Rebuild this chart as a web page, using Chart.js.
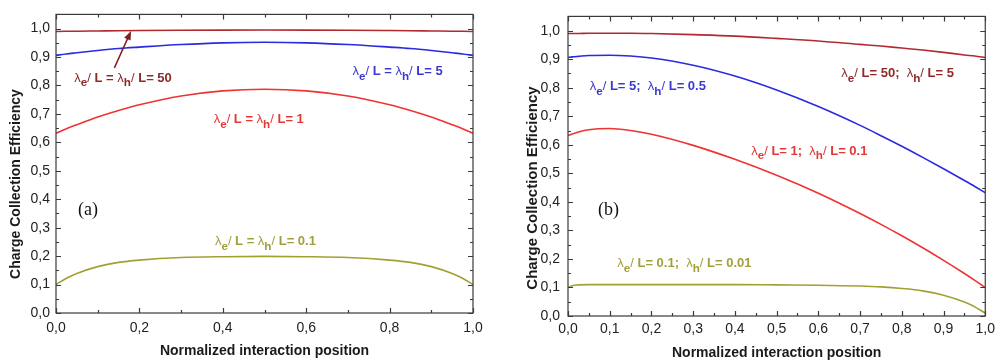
<!DOCTYPE html>
<html>
<head>
<meta charset="utf-8">
<script src="https://cdn.jsdelivr.net/npm/chart.js@4.4.1/dist/chart.umd.min.js"></script>
<style>
  body { margin: 0; background: #fff; }
  .panel { position: absolute; top: 0; height: 364px; }
  #wrapA { left: 0; width: 495px; }
  #wrapB { left: 500px; width: 500px; }
</style>
</head>
<body>
<div class="panel" id="wrapA"><canvas id="chartA"></canvas></div>
<div class="panel" id="wrapB"><canvas id="chartB"></canvas></div>
<script>
// panel (a): symmetric mobilities
const posA = [0, 0.025, 0.05, 0.1, 0.15, 0.2, 0.3, 0.4, 0.5, 0.6, 0.7, 0.8, 0.85, 0.9, 0.95, 0.975, 1.0];
const cceA50 = [0.990, 0.9905, 0.991, 0.9918, 0.9926, 0.9932, 0.9942, 0.9948, 0.995, 0.9948, 0.9942, 0.9932, 0.9926, 0.9918, 0.991, 0.9905, 0.990];
const cceA5 = [0.906, 0.911, 0.915, 0.923, 0.930, 0.935, 0.944, 0.950, 0.952, 0.950, 0.944, 0.935, 0.930, 0.923, 0.915, 0.911, 0.906];
const cceA1 = [0.632, 0.648, 0.662, 0.689, 0.712, 0.732, 0.763, 0.781, 0.787, 0.781, 0.763, 0.732, 0.712, 0.689, 0.662, 0.648, 0.632];
const cceA01 = [0.100, 0.122, 0.139, 0.163, 0.178, 0.186, 0.195, 0.198, 0.199, 0.198, 0.195, 0.186, 0.178, 0.163, 0.139, 0.122, 0.100];
const labelsA = ['λ_e/ L = λ_h/ L= 50', 'λ_e/ L = λ_h/ L= 5', 'λ_e/ L = λ_h/ L= 1', 'λ_e/ L = λ_h/ L= 0.1'];

// panel (b): hole length ten times shorter
const posB = [0, 0.01, 0.025, 0.05, 0.1, 0.15, 0.2, 0.3, 0.4, 0.5, 0.6, 0.7, 0.75, 0.8, 0.85, 0.9, 0.95, 0.975, 1.0];
const cceB50 = [0.990, 0.990, 0.990, 0.991, 0.991, 0.991, 0.990, 0.986, 0.981, 0.973, 0.964, 0.952, 0.946, 0.939, 0.932, 0.924, 0.915, 0.911, 0.906];
const cceB5 = [0.906, 0.908, 0.910, 0.913, 0.914, 0.911, 0.904, 0.879, 0.841, 0.792, 0.734, 0.668, 0.632, 0.595, 0.556, 0.516, 0.475, 0.454, 0.432];
const cceB1 = [0.632, 0.638, 0.645, 0.653, 0.657, 0.650, 0.637, 0.598, 0.549, 0.493, 0.430, 0.359, 0.321, 0.281, 0.239, 0.195, 0.149, 0.125, 0.100];
const cceB01 = [0.100, 0.106, 0.109, 0.110, 0.110, 0.110, 0.110, 0.110, 0.110, 0.109, 0.108, 0.105, 0.102, 0.0965, 0.088, 0.073, 0.049, 0.032, 0.010];
const labelsB = ['λ_e/ L= 50;  λ_h/ L= 5', 'λ_e/ L= 5;  λ_h/ L= 0.5', 'λ_e/ L= 1;  λ_h/ L= 0.1', 'λ_e/ L= 0.1;  λ_h/ L= 0.01'];

const lineColors = ['#b02a32', '#2a2ae0', '#f03232', '#a3a032'];
const textColors = ['#8c2a2a', '#3a3ad2', '#e23838', '#a0a03c'];
const FONT = '"Liberation Sans", Arial, sans-serif';

const toPoints = (xs, ys) => xs.map((x, i) => ({ x: x, y: ys[i] }));

const comma = v => v.toFixed(1).replace('.', ',');
const isMajor = (v, step) => Math.abs(Math.round(v / step) * step - v) < 1e-6;

// text with one-letter subscripts written as _e
function drawRich(ctx, str, x, y, size, color) {
  let cx = x;
  for (let i = 0; i < str.length; i++) {
    let ch = str[i];
    let sub = false;
    if (ch === '_') { ch = str[++i]; sub = true; }
    const fs = sub ? size * 0.9 : size;
    const weight = (ch === 'λ' || ch === '/') ? 'normal' : 'bold';
    ctx.font = weight + ' ' + fs + 'px ' + FONT;
    ctx.fillStyle = color;
    ctx.fillText(ch, cx, sub ? y + size * 0.38 : y);
    cx += ctx.measureText(ch).width;
  }
}

const decor = {
  id: 'decor',
  afterDraw(chart, args, opts) {
    const { ctx, chartArea: a, scales: { x, y } } = chart;
    ctx.save();
    // frame with inward ticks on all four sides
    ctx.strokeStyle = '#3a3a3a';
    ctx.lineWidth = 1.2;
    ctx.strokeRect(a.left, a.top, a.right - a.left, a.bottom - a.top);
    ctx.beginPath();
    x.ticks.forEach(t => {
      const px = Math.round(x.getPixelForValue(t.value)) + 0.5;
      const len = isMajor(t.value, opts.xMajor) ? 5 : 3;
      ctx.moveTo(px, a.bottom); ctx.lineTo(px, a.bottom - len);
      ctx.moveTo(px, a.top); ctx.lineTo(px, a.top + len);
    });
    y.ticks.forEach(t => {
      const py = Math.round(y.getPixelForValue(t.value)) + 0.5;
      const len = isMajor(t.value, 0.1) ? 5 : 3;
      ctx.moveTo(a.left, py); ctx.lineTo(a.left + len, py);
      ctx.moveTo(a.right, py); ctx.lineTo(a.right - len, py);
    });
    ctx.stroke();

    // y axis title
    ctx.save();
    ctx.translate(opts.titleX, opts.titleY);
    ctx.rotate(-Math.PI / 2);
    ctx.font = 'bold ' + opts.titleSize + 'px ' + FONT;
    ctx.fillStyle = '#1a1a1a';
    ctx.textAlign = 'center';
    ctx.textBaseline = 'middle';
    ctx.fillText('Charge Collection Efficiency', 0, 0);
    ctx.restore();

    // curve labels
    ctx.textBaseline = 'alphabetic';
    ctx.textAlign = 'left';
    opts.notes.forEach(n => {
      drawRich(ctx, n.text, x.getPixelForValue(n.x), y.getPixelForValue(n.y), 13, n.color);
    });

    // panel letter
    ctx.font = '18px "Liberation Serif", "Times New Roman", serif';
    ctx.fillStyle = '#111';
    ctx.fillText(opts.letter.text, x.getPixelForValue(opts.letter.x), y.getPixelForValue(opts.letter.y));

    // arrow
    if (opts.arrow) {
      const x0 = x.getPixelForValue(opts.arrow.from[0]), y0 = y.getPixelForValue(opts.arrow.from[1]);
      const x1 = x.getPixelForValue(opts.arrow.to[0]), y1 = y.getPixelForValue(opts.arrow.to[1]);
      const ang = Math.atan2(y1 - y0, x1 - x0);
      ctx.strokeStyle = '#7e1e24';
      ctx.fillStyle = '#7e1e24';
      ctx.lineWidth = 1.5;
      ctx.beginPath();
      ctx.moveTo(x0, y0);
      ctx.lineTo(x1 - 6 * Math.cos(ang), y1 - 6 * Math.sin(ang));
      ctx.stroke();
      ctx.beginPath();
      ctx.moveTo(x1, y1);
      ctx.lineTo(x1 - 9 * Math.cos(ang) + 3.5 * Math.sin(ang), y1 - 9 * Math.sin(ang) - 3.5 * Math.cos(ang));
      ctx.lineTo(x1 - 9 * Math.cos(ang) - 3.5 * Math.sin(ang), y1 - 9 * Math.sin(ang) + 3.5 * Math.cos(ang));
      ctx.closePath();
      ctx.fill();
    }
    ctx.restore();
  }
};

function makeChart(id, pos, series, cfg) {
  return new Chart(document.getElementById(id), {
    type: 'line',
    data: {
      datasets: series.map((s, i) => ({
        data: toPoints(pos, s),
        borderColor: lineColors[i],
        borderWidth: 1.6,
        pointRadius: 0,
        cubicInterpolationMode: 'monotone',
        fill: false
      }))
    },
    options: {
      responsive: true,
      maintainAspectRatio: false,
      animation: false,
      layout: { padding: { left: 0, top: cfg.top, right: cfg.right, bottom: 0 } },
      plugins: {
        legend: { display: false },
        tooltip: { enabled: false },
        decor: cfg.decor
      },
      scales: {
        x: {
          type: 'linear',
          min: 0, max: 1,
          grid: { display: false, drawTicks: false },
          border: { display: false },
          afterFit: s => { s.height = cfg.xHeight; },
          ticks: {
            stepSize: cfg.xStep,
            autoSkip: false,
            maxRotation: 0,
            padding: cfg.xPad,
            color: '#222',
            font: { family: FONT, size: 14 },
            callback: v => isMajor(v, cfg.xMajor) ? comma(v) : ''
          },
          title: {
            display: true,
            text: 'Normalized interaction position',
            color: '#1a1a1a',
            font: { family: FONT, size: 14, weight: 'bold' },
            padding: { top: 0, bottom: cfg.xTitlePad }
          }
        },
        y: {
          min: 0, max: 1.05,
          grid: { display: false, drawTicks: false },
          border: { display: false },
          afterFit: s => { s.width = cfg.yWidth; },
          ticks: {
            stepSize: 0.05,
            autoSkip: false,
            padding: cfg.yPad,
            color: '#222',
            font: { family: FONT, size: 14 },
            callback: v => isMajor(v, 0.1) ? comma(v) : ''
          }
        }
      }
    },
    plugins: [decor]
  });
}

makeChart('chartA', posA, [cceA50, cceA5, cceA1, cceA01], {
  top: 5, right: 22, xHeight: 51, yWidth: 56, xStep: 0.1, xMajor: 0.2, xPad: 7, xTitlePad: 4, yPad: 6,
  decor: {
    xMajor: 0.2, titleX: 16, titleY: 184, titleSize: 14,
    notes: [
      { text: labelsA[0], x: 0.044, y: 0.814, color: textColors[0] },
      { text: labelsA[1], x: 0.711, y: 0.838, color: textColors[1] },
      { text: labelsA[2], x: 0.378, y: 0.667, color: textColors[2] },
      { text: labelsA[3], x: 0.381, y: 0.239, color: textColors[3] }
    ],
    letter: { text: '(a)', x: 0.053, y: 0.346 },
    arrow: { from: [0.140, 0.862], to: [0.180, 0.992] }
  }
});

makeChart('chartB', posB, [cceB50, cceB5, cceB1, cceB01], {
  top: 8, right: 13, xHeight: 48, yWidth: 68, xStep: 0.05, xMajor: 0.1, xPad: 5, xTitlePad: 2, yPad: 8,
  decor: {
    xMajor: 0.1, titleX: 33, titleY: 188, titleSize: 15,
    notes: [
      { text: labelsB[0], x: 0.655, y: 0.839, color: textColors[0] },
      { text: labelsB[1], x: 0.052, y: 0.791, color: textColors[1] },
      { text: labelsB[2], x: 0.439, y: 0.566, color: textColors[2] },
      { text: labelsB[3], x: 0.118, y: 0.170, color: textColors[3] }
    ],
    letter: { text: '(b)', x: 0.072, y: 0.355 },
    arrow: null
  }
});
</script>
</body>
</html>
